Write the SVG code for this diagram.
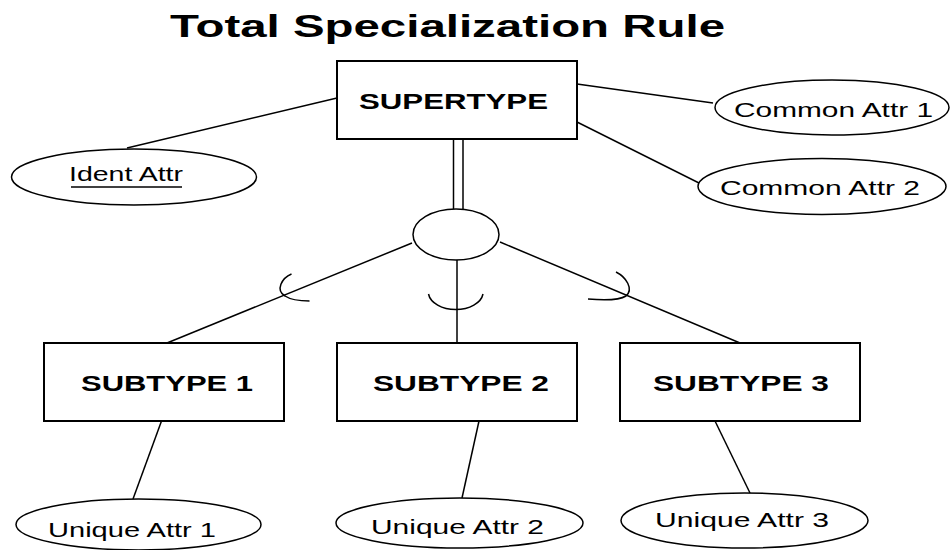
<svg xmlns="http://www.w3.org/2000/svg" width="951" height="550" viewBox="0 0 951 550">
  <style>
    .entity { fill: #ffffff; stroke: #000000; stroke-width: 2; }
    .attr { fill: #ffffff; stroke: #000000; stroke-width: 1.5; }
    .link { fill: none; stroke: #000000; stroke-width: 1.5; }
    .title { font-family: "Liberation Sans", Arial, sans-serif; font-weight: bold; font-size: 31px; fill: #000000; }
    .ename { font-family: "Liberation Sans", Arial, sans-serif; font-weight: bold; font-size: 22px; fill: #000000; }
    .aname { font-family: "Liberation Sans", Arial, sans-serif; font-size: 20.5px; fill: #000000; }
  </style>
  <rect width="951" height="550" fill="#ffffff"/>

  <text class="title" x="170" y="37" textLength="555" lengthAdjust="spacingAndGlyphs">Total Specialization Rule</text>

  <!-- connectors -->
  <g id="connectors">
    <!-- attributes of the supertype -->
    <line class="link" x1="337" y1="98" x2="127" y2="148"/>
    <line class="link" x1="577" y1="84" x2="713" y2="103"/>
    <line class="link" x1="577" y1="122" x2="699" y2="183"/>
    <!-- total participation: double line -->
    <line class="link" x1="453.5" y1="139" x2="453.5" y2="209.5"/>
    <line class="link" x1="463" y1="139" x2="463" y2="209.5"/>
    <!-- specialization branches -->
    <line class="link" x1="412" y1="243" x2="167" y2="343"/>
    <line class="link" x1="457" y1="260" x2="457" y2="343"/>
    <line class="link" x1="500" y1="242" x2="740" y2="343"/>
    <!-- subset symbols -->
    <path class="link" d="M291.5,274 C282,278 275,290 285,296 C291,300 300,301 309.5,301"/>
    <path class="link" d="M428.5,294 A27.5,18 0 0 0 483,294"/>
    <path class="link" d="M616,272 C626,277 634,289 626,296 C618,301 600,300 588,299"/>
    <!-- attributes of the subtypes -->
    <line class="link" x1="161.5" y1="421" x2="133" y2="499"/>
    <line class="link" x1="479" y1="421" x2="462" y2="498"/>
    <line class="link" x1="715" y1="421" x2="750" y2="493"/>
  </g>

  <g id="supertype">
    <rect class="entity" x="337" y="61" width="240" height="78"/>
    <text class="ename" x="359" y="109" textLength="189" lengthAdjust="spacingAndGlyphs">SUPERTYPE</text>
  </g>

  <g id="specialization">
    <ellipse class="attr" cx="456" cy="234.5" rx="43" ry="25.5"/>
  </g>

  <g id="ident-attr">
    <ellipse class="attr" cx="134" cy="177" rx="122.5" ry="28"/>
    <text class="aname" x="69" y="181" textLength="114" lengthAdjust="spacingAndGlyphs">Ident Attr</text>
    <line x1="71" y1="187" x2="182" y2="187" stroke="#000000" stroke-width="1.5"/>
  </g>

  <g id="common-attr-1">
    <ellipse class="attr" cx="832" cy="107.5" rx="117" ry="27.5"/>
    <text class="aname" x="734" y="117" textLength="199" lengthAdjust="spacingAndGlyphs">Common Attr 1</text>
  </g>

  <g id="common-attr-2">
    <ellipse class="attr" cx="822" cy="186.5" rx="124" ry="28"/>
    <text class="aname" x="720" y="195" textLength="200" lengthAdjust="spacingAndGlyphs">Common Attr 2</text>
  </g>

  <g id="subtype-1">
    <rect class="entity" x="44" y="343" width="240" height="78"/>
    <text class="ename" x="81" y="390.5" textLength="172" lengthAdjust="spacingAndGlyphs">SUBTYPE 1</text>
  </g>

  <g id="subtype-2">
    <rect class="entity" x="337" y="343" width="240" height="78"/>
    <text class="ename" x="373" y="390.5" textLength="176" lengthAdjust="spacingAndGlyphs">SUBTYPE 2</text>
  </g>

  <g id="subtype-3">
    <rect class="entity" x="620" y="343" width="240" height="78"/>
    <text class="ename" x="653" y="390.5" textLength="176" lengthAdjust="spacingAndGlyphs">SUBTYPE 3</text>
  </g>

  <g id="unique-attr-1">
    <ellipse class="attr" cx="138.5" cy="524.5" rx="122.5" ry="25.5"/>
    <text class="aname" x="48" y="537" textLength="168" lengthAdjust="spacingAndGlyphs">Unique Attr 1</text>
  </g>

  <g id="unique-attr-2">
    <ellipse class="attr" cx="459.5" cy="523" rx="123.5" ry="25"/>
    <text class="aname" x="371" y="534" textLength="173" lengthAdjust="spacingAndGlyphs">Unique Attr 2</text>
  </g>

  <g id="unique-attr-3">
    <ellipse class="attr" cx="744.5" cy="520.5" rx="123.5" ry="27.5"/>
    <text class="aname" x="655" y="527" textLength="174" lengthAdjust="spacingAndGlyphs">Unique Attr 3</text>
  </g>
</svg>
